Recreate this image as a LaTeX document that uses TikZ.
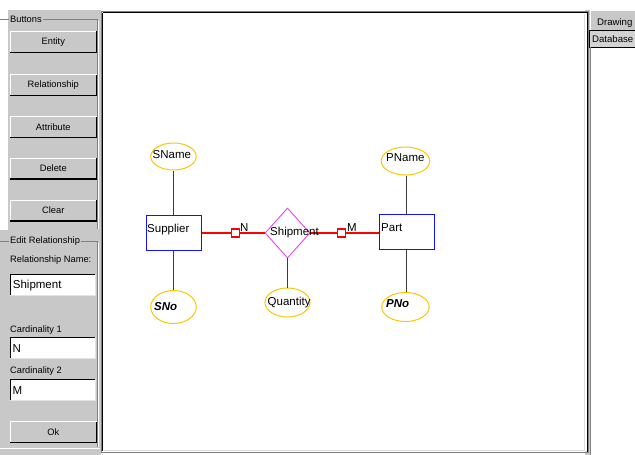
\documentclass[tikz,border=0pt]{standalone}
\usepackage{fontspec}
\setmainfont{Liberation Sans}
\usetikzlibrary{shapes.geometric}
\definecolor{panel}{RGB}{200,200,200}
\definecolor{dgray}{RGB}{128,128,128}
\definecolor{attrc}{RGB}{250,200,0}
\definecolor{entc}{RGB}{20,20,240}
\definecolor{relc}{RGB}{235,70,235}
\definecolor{conc}{RGB}{60,60,60}
\tikzset{
  attr/.style={ellipse, draw=attrc, line width=1pt, inner sep=0pt},
  entity/.style={rectangle, draw=entc, line width=1pt, minimum width=55, minimum height=35, inner sep=0pt},
  relbox/.style={diamond, draw=relc, line width=0.9pt, minimum width=45, minimum height=50, inner sep=0pt},
  txt/.style={anchor=base west, inner sep=0pt, font=\fontsize{11.5}{13}\selectfont},
  sqbox/.style={rectangle, draw=red, fill=white, line width=1.1pt, minimum size=8, inner sep=0pt},
  con/.style={draw=conc, line width=1pt},
  redcon/.style={draw=red, line width=1.15pt},
  btn/.style={rectangle, fill=panel, minimum width=86, minimum height=20.5, inner sep=0pt, font=\fontsize{9.3}{11}\selectfont},
  tbox/.style={rectangle, fill=white, minimum width=85, minimum height=20.5, inner sep=0pt},
  ptxt/.style={anchor=base west, inner sep=0pt, font=\fontsize{9.3}{11}\selectfont},
  grp/.style={anchor=west, fill=panel, inner xsep=1pt, inner ysep=0pt, font=\fontsize{9.3}{11}\selectfont}
}
\begin{document}
\begin{tikzpicture}[x=1pt,y=-1pt]
\useasboundingbox (0,0) rectangle (635,455);
% backgrounds
\fill[white] (0,0) rectangle (635,455);
\fill[panel] (8,10) rectangle (101,455);
\fill[panel] (0,230) rectangle (8,455);
\fill[panel] (585,10) rectangle (591,455);
% canvas
\fill[white] (103,13) rectangle (587,451);
\draw[dgray, line width=1pt] (101.5,11.5) rectangle (588.5,452.5);
\draw[black, line width=0.8pt] (102.8,12.8) -- (586.8,12.8);
\draw[black, line width=0.8pt] (102.8,12.8) -- (102.8,451);
\draw[panel!60, line width=0.8pt] (584.5,14) -- (584.5,450.5) -- (104,450.5);
\draw[black, line width=1pt] (587.3,12) -- (587.3,452);

% left panel group frames
\draw[dgray, line width=0.6pt] (0,19.5) -- (97.5,19.5) -- (97.5,229);
\draw[white, line width=0.6pt] (98.5,20.5) -- (98.5,229);
\node[grp] (gButtons) at (9,19.5) {Buttons};
\draw[dgray, line width=0.6pt] (0,241.5) -- (97.5,241.5) -- (97.5,447);
\draw[white, line width=0.6pt] (98.5,242.5) -- (98.5,447);
\draw[white, line width=0.8pt] (0,448.5) -- (100,448.5);
\node[grp] (gEdit) at (9,241.5) {Edit Relationship};

% buttons
\node[btn] (bEntity) at (53.3,41.8) {Entity};
\node[btn] (bRel) at (53.3,85) {Relationship};
\node[btn] (bAttr) at (53.3,127) {Attribute};
\node[btn] (bDel) at (53.3,168.5) {Delete};
\node[btn] (bClear) at (53.3,210.5) {Clear};
\node[btn] (bOk) at (53.3,432) {Ok};
\foreach \b in {bEntity,bRel,bAttr,bDel,bClear,bOk}{
  \draw[white, line width=0.8pt] (\b.south west) -- (\b.north west) -- (\b.north east);
  \draw[black, line width=1.2pt] (\b.south west) -- (\b.south east) -- (\b.north east);
}

% text fields
\node[ptxt] (lName) at (10,262) {Relationship Name:};
\node[tbox] (tName) at (53,284.5) {};
\node[txt] (vName) at (12.7,288.5) {Shipment};
\node[ptxt] (lC1) at (10,332) {Cardinality 1};
\node[tbox] (tC1) at (53,347.5) {};
\node[txt] (vC1) at (12.5,352.5) {N};
\node[ptxt] (lC2) at (10,373.5) {Cardinality 2};
\node[tbox] (tC2) at (53,389.5) {};
\node[txt] (vC2) at (12.5,394.5) {M};
\foreach \t in {tName,tC1,tC2}{
  \draw[black, line width=1pt] (\t.south west) -- (\t.north west) -- (\t.north east);
  \draw[panel!50, line width=0.8pt] (\t.south west) -- (\t.south east) -- (\t.north east);
}

% right tabs
\node[rectangle, fill=panel, minimum width=45, minimum height=19, inner sep=0pt, anchor=north west] (tabDraw) at (590,10.5) {};
\draw[white, line width=0.8pt] (tabDraw.south west) -- (tabDraw.north west) -- (tabDraw.north east);
\node[ptxt, font=\fontsize{9.6}{11}\selectfont] (tDraw) at (597,25) {Drawing};
\node[rectangle, fill=panel!80, draw=black, line width=0.8pt, minimum width=48, minimum height=17.5, inner sep=0pt, anchor=north west] (tabDb) at (588.5,29.5) {};
\node[ptxt, font=\fontsize{9.6}{11}\selectfont] (tDb) at (592,42) {Database};
\draw[dgray, line width=0.8pt] (590.5,47) -- (590.5,455);

% ER diagram
\node[attr, minimum width=45.5, minimum height=27] (SName) at (173.5,156.5) {};
\node[attr, minimum width=45.5, minimum height=33] (SNo) at (173.5,307) {};
\node[attr, minimum width=45, minimum height=29] (Quantity) at (287.5,302.5) {};
\node[attr, minimum width=48.5, minimum height=28] (PName) at (405.5,161) {};
\node[attr, minimum width=47.5, minimum height=29] (PNo) at (405.5,307) {};
\node[entity] (Supplier) at (173.5,232.5) {};
\node[entity] (Part) at (406.5,232) {};
\node[relbox] (Shipment) at (287.5,233) {};
\node[sqbox] (sqN) at (235.5,233) {};
\node[sqbox] (sqM) at (341.5,233) {};

\draw[con] (SName) -- (Supplier);
\draw[con] (Supplier) -- (SNo);
\draw[con] (Shipment) -- (Quantity);
\draw[con] (PName.south -| Part.north) -- (Part.north);
\draw[con] (Part.south) -- (Part.south |- PNo.north);
\draw[redcon] (Supplier.east |- sqN.west) -- (sqN.west);
\draw[redcon] (sqN.east) -- (Shipment.west);
\draw[redcon] (Shipment.east) -- (sqM.west);
\draw[redcon] (sqM.east) -- (Part.west |- sqM.east);
\node[sqbox] at (sqN) {};
\node[sqbox] at (sqM) {};

\node[txt] (tSName) at (152.5,158) {SName};
\node[txt] (tSupplier) at (147,232.5) {Supplier};
\node[txt] (tShipment) at (270,235) {Shipment};
\node[txt] (tQuantity) at (267.5,305) {Quantity};
\node[txt] (tPart) at (381,231.5) {Part};
\node[txt] (tPName) at (386,161.5) {PName};
\node[txt, font=\fontsize{11.5}{13}\selectfont\bfseries\itshape] (tSNo) at (154,310) {SNo};
\node[txt, font=\fontsize{11.5}{13}\selectfont\bfseries\itshape] (tPNo) at (386,307.5) {PNo};
\node[txt] (cN) at (240,231.7) {N};
\node[txt] (cM) at (347,231.7) {M};
\end{tikzpicture}
\end{document}
